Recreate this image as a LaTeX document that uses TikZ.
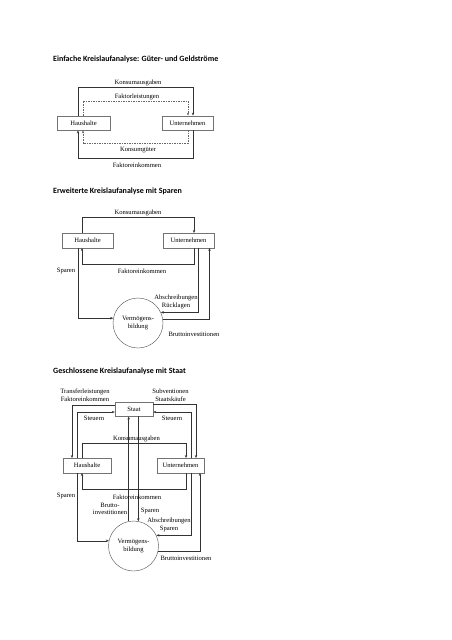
\documentclass[tikz,border=0pt]{standalone}
\usepackage{fontspec}
\setmainfont{Liberation Serif}
\newfontfamily\headfont{Carlito}
\usetikzlibrary{arrows.meta}

\tikzset{
  sektor/.style={draw=black!55, fill=white, inner sep=0pt, minimum height=14.5pt, font=\fontsize{6.6}{7.6}\selectfont},
  pool/.style={circle, draw=black!70, inner sep=0pt, minimum size=50pt, align=center, font=\fontsize{6.6}{7.6}\selectfont},
  lbl/.style={inner sep=0pt, align=center, font=\fontsize{6.6}{7.6}\selectfont},
  strom/.style={draw=black!80, line width=0.5pt, -{Stealth[length=3pt,width=2.4pt]}},
  gstrom/.style={strom, draw=black!60, dash pattern=on 1.5pt off 1pt},
  titel/.style={anchor=west, inner sep=0pt, font=\headfont\bfseries\fontsize{8}{9.5}\selectfont},
}

\begin{document}
\begin{tikzpicture}[x=1pt,y=-1pt]
		\useasboundingbox (0,0) rectangle (452,640);
		
		%%%%% EINFACHE KREISLAUFANALYSE %%%%%
		
		\node[titel] (t1) at (53,59) {Einfache Kreislaufanalyse: Güter- und Geldströme};
		
		\node[sektor, minimum width=53pt] (hh1) at (83.5,123) {Haushalte};
		\node[sektor, minimum width=51pt] (uu1) at (187.5,123) {Unternehmen};
		
		\coordinate (ka1l) at (78,87);  \coordinate (ka1r) at (193,87);
		\coordinate (fl1l) at (83,101); \coordinate (fl1r) at (188,101);
		\coordinate (kg1r) at (188,143); \coordinate (kg1l) at (83,143);
		\coordinate (fe1r) at (193,158); \coordinate (fe1l) at (78,158);
		
		\draw[strom] (hh1.north -| ka1l) -- (ka1l) -- (ka1r) -- (uu1.north -| ka1r);
		\draw[gstrom] (hh1.north -| fl1l) -- (fl1l) -- (fl1r) -- (uu1.north -| fl1r);
		\draw[gstrom] (uu1.south -| kg1r) -- (kg1r) -- (kg1l) -- (hh1.south -| kg1l);
		\draw[strom] (uu1.south -| fe1r) -- (fe1r) -- (fe1l) -- (hh1.south -| fe1l);
		
		\node[lbl] (lka1) at (138,82.5) {Konsumausgaben};
		\node[lbl] (lfl1) at (137,96.5) {Faktorleistungen};
		\node[lbl] (lkg1) at (138,150) {Konsumgüter};
		\node[lbl] (lfe1) at (137,165) {Faktoreinkommen};
		
		%%%%% ERWEITERTE KREISLAUFANALYSE %%%%%
		
		\node[titel] (t2) at (53,191) {Erweiterte Kreislaufanalyse mit Sparen};
		
		\node[sektor, minimum width=51pt] (hh2) at (87.5,240.5) {Haushalte};
		\node[sektor, minimum width=51pt] (uu2) at (188.5,240.5) {Unternehmen};
		\node[pool] (vb2) at (138,323) {Vermögens-\\bildung};
		
		\coordinate (ka2l) at (82,217);  \coordinate (ka2r) at (194,217);
		\coordinate (fe2r) at (194,264); \coordinate (fe2l) at (82,264);
		\coordinate (sp2) at (78,318);
		\coordinate (ab2) at (198,312);
		\coordinate (bi2) at (209.5,319);
		
		\draw[strom] (hh2.north -| ka2l) -- (ka2l) -- (ka2r) -- (uu2.north -| ka2r);
		\draw[strom] (uu2.south -| fe2r) -- (fe2r) -- (fe2l) -- (hh2.south -| fe2l);
		\draw[strom] (hh2.south -| sp2) |- (vb2.169);
		\draw[strom] (uu2.south -| ab2) |- (vb2.25);
		\draw[strom] (vb2.9) -| (uu2.south -| bi2);
		
		\node[lbl] (lka2) at (138,212.5) {Konsumausgaben};
		\node[lbl] (lfe2) at (142,271) {Faktoreinkommen};
		\node[lbl] (lsp2) at (66,271) {Sparen};
		\node[lbl] (lab2) at (176,302) {Abschreibungen\\Rücklagen};
		\node[lbl] (lbi2) at (194,334) {Bruttoinvestitionen};
		
		%%%%% GESCHLOSSENE KREISLAUFANALYSE %%%%%
		
		\node[titel] (t3) at (53,371) {Geschlossene Kreislaufanalyse mit Staat};
		
		\node[sektor, minimum width=38pt] (st3) at (134,409) {Staat};
		\node[sektor, minimum width=48pt] (hh3) at (87,465.5) {Haushalte};
		\node[sektor, minimum width=47pt] (uu3) at (180.5,465.5) {Unternehmen};
		\node[pool] (vb3) at (133.5,546) {Vermögens-\\bildung};
		
		\coordinate (tr3) at (72,405);
		\coordinate (sth3) at (77,412);
		\coordinate (su3) at (196,404);
		\coordinate (stu3) at (191,412);
		\coordinate (ka3l) at (82,443);  \coordinate (ka3r) at (186,443);
		\coordinate (fe3r) at (186,489); \coordinate (fe3l) at (82,489);
		\coordinate (sp3) at (77,541);
		\coordinate (ab3) at (191,536);
		\coordinate (bi3) at (200,551);
		
		\draw[strom] (st3.west |- tr3) -- (tr3) -- (hh3.north -| tr3);
		\draw[strom] (hh3.north -| sth3) -- (sth3) -- (st3.west |- sth3);
		\draw[strom] (st3.east |- su3) -- (su3) -- (uu3.north -| su3);
		\draw[strom] (uu3.north -| stu3) -- (stu3) -- (st3.east |- stu3);
		\draw[strom] (hh3.north -| ka3l) -- (ka3l) -- (ka3r) -- (uu3.north -| ka3r);
		\draw[strom] (uu3.south -| fe3r) -- (fe3r) -- (fe3l) -- (hh3.south -| fe3l);
		\draw[strom] (hh3.south -| sp3) |- (vb3.168);
		\draw[strom] (vb3.101) -- (st3.south -| vb3.101);
		\draw[strom] (st3.south -| vb3.79) -- (vb3.79);
		\draw[strom] (uu3.south -| ab3) |- (vb3.25);
		\draw[strom] (vb3.348) -| (uu3.south -| bi3);
		
		\node[lbl] (ltr3) at (85,395.5) {Transferleistungen\\Faktoreinkommen};
		\node[lbl] (lsu3) at (170.5,395.5) {Subventionen\\Staatskäufe};
		\node[lbl] (lsth3) at (94,418) {Steuern};
		\node[lbl] (lstu3) at (172,418) {Steuern};
		\node[lbl] (lka3) at (136.5,439) {Konsumausgaben};
		\node[lbl] (lfe3) at (137,497) {Faktoreinkommen};
		\node[lbl] (lsp3) at (66,496) {Sparen};
		\node[lbl] (lbr3) at (110,509) {Brutto-\\investitionen};
		\node[lbl] (lsps3) at (150,511) {Sparen};
		\node[lbl] (lab3) at (169,525) {Abschreibungen\\Sparen};
		\node[lbl] (lbi3) at (186,558) {Bruttoinvestitionen};
		
	\end{tikzpicture}
\end{document}
